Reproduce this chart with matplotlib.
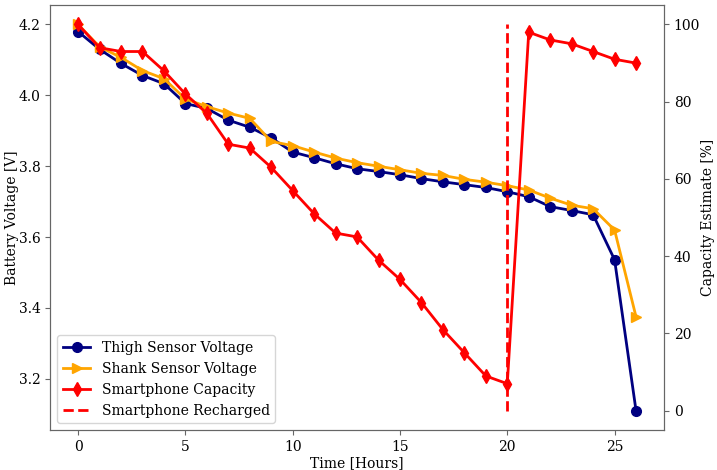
import numpy as np
import matplotlib.pyplot as plt

plt.rcParams["font.family"] = ["DejaVu Serif"]
plt.rcParams["font.size"] = 10

hours = np.arange(0, 27)

thigh_v = [4.18, 4.13, 4.09, 4.056, 4.033, 3.977, 3.963, 3.93, 3.91, 3.88,
           3.84, 3.824, 3.807, 3.793, 3.785, 3.776, 3.765, 3.756, 3.748, 3.74,
           3.728, 3.714, 3.686, 3.675, 3.663, 3.536, 3.11]
shank_v = [4.20, 4.137, 4.107, 4.07, 4.047, 3.99, 3.968, 3.95, 3.935, 3.87,
           3.858, 3.84, 3.823, 3.81, 3.80, 3.79, 3.78, 3.774, 3.763, 3.755,
           3.745, 3.733, 3.71, 3.69, 3.68, 3.62, 3.375]
phone_cap = [100, 94, 93, 93, 88, 82, 77, 69, 68, 63,
             57, 51, 46, 45, 39, 34, 28, 21, 15, 9,
             7, 98, 96, 95, 93, 91, 90]

recharge_hour = 20
recharge_span = [0, 100]

fig, ax = plt.subplots(figsize=(7.17, 4.70), dpi=100)
fig.subplots_adjust(left=0.07, right=0.926, bottom=0.085, top=0.989)

l1, = ax.plot(hours, thigh_v, color="navy", marker="o", lw=2, ms=7,
              label="Thigh Sensor Voltage")
l2, = ax.plot(hours, shank_v, color="orange", marker=">", lw=2, ms=7,
              label="Shank Sensor Voltage")
ax.set_xlabel("Time [Hours]", labelpad=2)
ax.set_ylabel("Battery Voltage [V]", labelpad=0)

ax2 = ax.twinx()
l3, = ax2.plot(hours, phone_cap, color="red", marker="d", lw=2, ms=7,
               label="Smartphone Capacity")
l4, = ax2.plot([recharge_hour, recharge_hour], recharge_span, color="red",
               ls="--", lw=2, label="Smartphone Recharged")
ax2.set_ylabel("Capacity Estimate [%]", labelpad=1)

for a in (ax, ax2):
    for s in a.spines.values():
        s.set_color("#666666")
    a.tick_params(color="#666666")

ax.legend(handles=[l1, l2, l3, l4], loc="lower left")

plt.savefig("out.png", dpi=100)
plt.close(fig)
